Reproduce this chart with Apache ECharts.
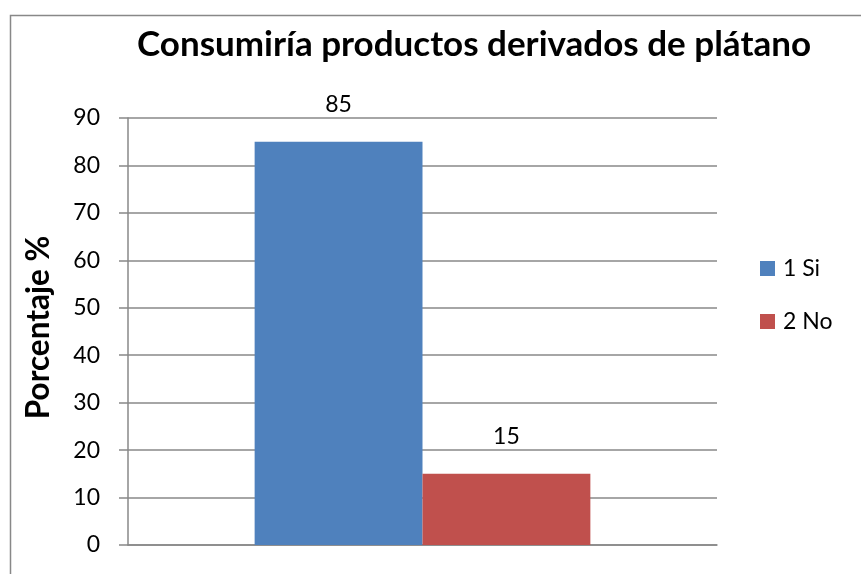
<!DOCTYPE html>
<html>
<head>
<meta charset="utf-8">
<script src="https://cdn.jsdelivr.net/npm/echarts@6/dist/echarts.min.js"></script>
<style>
  html, body { margin: 0; padding: 0; background: #fff; }
  #chart { width: 861px; height: 574px; }
</style>
</head>
<body>
<div id="chart"></div>
<script>
// Survey answers: would the respondent consume banana-derived products
const titleText = 'Consumiría productos derivados de plátano';
const axisTitle = 'Porcentaje %';
const categories = [''];
const seriesNames = ['1 Si', '2 No'];
const valuesSi = [85];
const valuesNo = [15];
const colors = ['#4F81BD', '#C0504D'];

const FONT = 'Lato, "Open Sans", sans-serif';
const chart = echarts.init(document.getElementById('chart'), null, { renderer: 'canvas' });

const valueLabel = { show: true, position: 'top', distance: 26, fontFamily: FONT, fontSize: 23, color: '#000' };

chart.setOption({
  animation: false,
  backgroundColor: '#ffffff',
  color: colors,
  title: {
    text: titleText,
    left: 469,
    top: 22,
    textAlign: 'center',
    textStyle: { fontFamily: FONT, fontWeight: 'bold', fontSize: 35, color: '#000' }
  },
  // chart frame: only the top and left edges fall inside the page
  graphic: [{
    type: 'rect',
    shape: { x: 10.5, y: 15.5, width: 1000, height: 1000 },
    style: { fill: 'none', stroke: '#888888', lineWidth: 1.5 },
    silent: true
  }],
  legend: {
    orient: 'vertical',
    left: 755,
    top: 252,
    itemWidth: 15,
    itemHeight: 15,
    itemGap: 30,
    icon: 'rect',
    textStyle: { fontFamily: FONT, fontSize: 23, color: '#000', padding: [0, 0, 0, 3] },
    data: seriesNames
  },
  grid: { left: 128, right: 144, top: 118, bottom: 29, containLabel: false, outerBoundsMode: 'none' },
  xAxis: {
    type: 'category',
    data: categories,
    axisLine: { show: true, lineStyle: { color: '#888888', width: 1.5 } },
    axisTick: { show: false },
    axisLabel: { show: false }
  },
  yAxis: {
    type: 'value',
    min: 0,
    max: 90,
    interval: 10,
    name: axisTitle,
    nameLocation: 'middle',
    nameGap: 73,
    nameRotate: 90,
    nameTextStyle: { fontFamily: FONT, fontWeight: 'bold', fontSize: 31.5, color: '#000', padding: [0, 0, 0, 8] },
    axisLine: { show: true, lineStyle: { color: '#888888', width: 1.5 } },
    axisTick: { show: true, inside: false, length: 9, lineStyle: { color: '#888888', width: 1.5 } },
    axisLabel: { fontFamily: FONT, fontSize: 23, color: '#000', margin: 28 },
    splitLine: { show: true, lineStyle: { color: '#888888', width: 1.5 } }
  },
  series: [
    {
      name: seriesNames[0],
      type: 'bar',
      data: valuesSi,
      barGap: '0%',
      barCategoryGap: '43%',
      label: valueLabel
    },
    {
      name: seriesNames[1],
      type: 'bar',
      data: valuesNo,
      barGap: '0%',
      barCategoryGap: '43%',
      label: valueLabel
    }
  ]
});
</script>
</body>
</html>
